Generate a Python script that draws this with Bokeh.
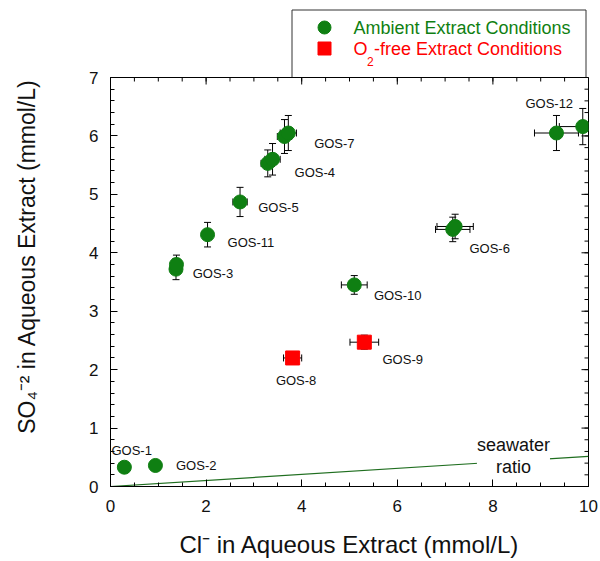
import numpy as np
from bokeh.plotting import figure
from bokeh.models import Range1d, SingleIntervalTicker, Label
from bokeh.layouts import column
from bokeh.embed import file_html
from bokeh.resources import INLINE
from bokeh.core.properties import value

FONT = "Liberation Sans"

# ---------------- data ----------------
# Ambient extract conditions (green circles)
amb_name = ["GOS-1", "GOS-2", "GOS-3", "GOS-3", "GOS-11", "GOS-5", "GOS-4", "GOS-4",
            "GOS-7", "GOS-7", "GOS-12", "GOS-12", "GOS-6", "GOS-6", "GOS-10"]
amb_cl = [0.29, 0.94, 1.37, 1.38, 2.03, 2.71, 3.29, 3.39, 3.64, 3.72, 9.33, 9.88, 7.16, 7.21, 5.10]
amb_so4 = [0.33, 0.36, 3.72, 3.80, 4.31, 4.87, 5.53, 5.60, 5.99, 6.05, 6.05, 6.16, 4.40, 4.45, 3.45]
amb_cl_err = [0.0, 0.0, 0.0, 0.0, 0.0, 0.15, 0.14, 0.16, 0.15, 0.17, 0.46, 0.49, 0.36, 0.38, 0.27]
amb_so4_err = [0.0, 0.0, 0.18, 0.16, 0.21, 0.25, 0.23, 0.27, 0.29, 0.30, 0.30, 0.31, 0.21, 0.21, 0.16]

# O2-free extract conditions (red squares)
o2f_name = ["GOS-8", "GOS-9"]
o2f_cl = [3.81, 5.31]
o2f_so4 = [2.20, 2.47]
o2f_cl_err = [0.19, 0.30]
o2f_so4_err = [0.07, 0.12]

# sample labels (left edge x, centre y, in data units)
lab_name = ["GOS-1", "GOS-2", "GOS-3", "GOS-11", "GOS-5", "GOS-4", "GOS-7",
            "GOS-12", "GOS-6", "GOS-10", "GOS-9", "GOS-8"]
lab_x = [0.02, 1.37, 1.72, 2.45, 3.09, 3.85, 4.26, 8.68, 7.51, 5.51, 5.69, 3.46]
lab_y = [0.62, 0.36, 3.65, 4.18, 4.77, 5.38, 5.87, 6.55, 4.07, 3.27, 2.17, 1.82]

# seawater SO4/Cl molar ratio
seawater_ratio = 0.0517
seawater_cl = [0.0, 10.0]

X_MAX, Y_MAX = 10, 7
x_major, x_minor = 2, 0.5
y_major, y_minor = 1, 0.2

GREEN = "#0f7f12"
RED = "#ff0000"
LINE_GREEN = "#1f6e1f"

W = 600
OVER = 12                 # plot canvas overlaps the legend strip by this much
TOP_H = 77
H = 561 - TOP_H + OVER
BL, BR, BT, BB = 110, 12, OVER, 75
FRAME_W = W - BL - BR
FRAME_H = H - BT - BB

# ---------------- legend strip (x in page pixels) ----------------
lg = figure(width=W, height=TOP_H, x_range=Range1d(BL, W - BR), y_range=Range1d(TOP_H, 0),
            output_backend="svg", toolbar_location=None,
            min_border_left=BL, min_border_right=BR, min_border_top=0, min_border_bottom=0,
            margin=(0, 0, -OVER, 0))
lg.axis.visible = False
lg.grid.visible = False
lg.outline_line_color = None
lg.quad(left=[291.5], right=[585.5], top=[9.5], bottom=[TOP_H + 2], fill_color=None,
        line_color="#333333", line_width=1)
lg.scatter([324], [27], marker="circle", size=13, fill_color=GREEN, line_color=GREEN)
lg.scatter([324], [48], marker="square", size=13, fill_color=RED, line_color=RED)
lg.text([353], [27], text=["Ambient Extract Conditions"], text_font=value(FONT),
        text_font_size="18px", text_color=GREEN, text_baseline="middle", text_align="left")
lg.text([353], [48], text=["O"], text_font=value(FONT),
        text_font_size="18px", text_color=RED, text_baseline="middle", text_align="left")
lg.text([366.5], [61], text=["2"], text_font=value(FONT),
        text_font_size="12px", text_color=RED, text_baseline="middle", text_align="left")
lg.text([373.5], [48], text=["-free Extract Conditions"], text_font=value(FONT),
        text_font_size="18px", text_color=RED, text_baseline="middle", text_align="left")

# ---------------- main plot ----------------
p = figure(width=W, height=H, x_range=Range1d(0, X_MAX), y_range=Range1d(0, Y_MAX),
           output_backend="svg", toolbar_location=None,
           min_border_left=BL, min_border_right=BR, min_border_top=BT, min_border_bottom=BB)
p.grid.visible = False
p.outline_line_color = "black"
p.background_fill_color = "white"
p.border_fill_color = None
p.border_fill_alpha = 0

xpx = X_MAX / FRAME_W   # data units per pixel
ypx = Y_MAX / FRAME_H

# top and right inward ticks (mirroring the bottom/left axes)
xt_major = np.arange(0, X_MAX + 1e-9, x_major)
xt_minor = np.arange(0, X_MAX + 1e-9, x_minor)
yt_major = np.arange(0, Y_MAX + 1e-9, y_major)
yt_minor = np.arange(0, Y_MAX + 1e-9, y_minor)
p.segment(xt_minor, Y_MAX, xt_minor, Y_MAX - 4 * ypx, line_color="black", line_width=1)
p.segment(xt_major, Y_MAX, xt_major, Y_MAX - 7 * ypx, line_color="black", line_width=1)
p.segment(X_MAX, yt_minor, X_MAX - 4 * xpx, yt_minor, line_color="black", line_width=1)
p.segment(X_MAX, yt_major, X_MAX - 7 * xpx, yt_major, line_color="black", line_width=1)

# seawater ratio line
sw_y = [seawater_ratio * c for c in seawater_cl]
p.line(seawater_cl, sw_y, line_color=LINE_GREEN, line_width=1.2)
p.add_layout(Label(x=8.43, y=0.52, text="seawater\nratio", text_align="center",
                   text_baseline="middle", text_font=FONT, text_font_size="18px",
                   text_color="#111111", background_fill_color="white",
                   text_line_height=1.1))


def err_bars(cl, so4, cl_err, so4_err):
    cl = np.array(cl); so4 = np.array(so4)
    ce = np.array(cl_err); se = np.array(so4_err)
    my = se > 0
    mx = ce > 0
    p.segment(cl[my], so4[my] - se[my], cl[my], so4[my] + se[my], line_color="black", line_width=1)
    p.scatter(np.concatenate([cl[my], cl[my]]),
              np.concatenate([so4[my] - se[my], so4[my] + se[my]]),
              marker="dash", size=7, line_color="black", line_width=1)
    p.segment(cl[mx] - ce[mx], so4[mx], cl[mx] + ce[mx], so4[mx], line_color="black", line_width=1)
    p.scatter(np.concatenate([cl[mx] - ce[mx], cl[mx] + ce[mx]]),
              np.concatenate([so4[mx], so4[mx]]),
              marker="dash", angle=np.pi / 2, size=7, line_color="black", line_width=1)


err_bars(amb_cl, amb_so4, amb_cl_err, amb_so4_err)
err_bars(o2f_cl, o2f_so4, o2f_cl_err, o2f_so4_err)

p.scatter(amb_cl, amb_so4, marker="circle", size=14, fill_color=GREEN, line_color=GREEN)
p.scatter(o2f_cl, o2f_so4, marker="square", size=14, fill_color=RED, line_color=RED)

for n, lx, ly in zip(lab_name, lab_x, lab_y):
    p.add_layout(Label(x=lx, y=ly, text=n, text_align="left", text_baseline="middle",
                       text_font=FONT, text_font_size="13px", text_color="#111111"))

# axes
xax = p.xaxis[0]
yax = p.yaxis[0]
xax.ticker = SingleIntervalTicker(interval=x_major, num_minor_ticks=int(round(x_major / x_minor)))
yax.ticker = SingleIntervalTicker(interval=y_major, num_minor_ticks=int(round(y_major / y_minor)))

for ax in [xax, yax]:
    ax.axis_line_color = "black"
    ax.major_tick_line_color = "black"
    ax.minor_tick_line_color = "black"
    ax.major_tick_in = 7
    ax.major_tick_out = 0
    ax.minor_tick_in = 4
    ax.minor_tick_out = 0
    ax.major_label_text_font = FONT
    ax.major_label_text_font_size = "17px"
    ax.major_label_text_color = "#111111"
    ax.axis_label_text_font = FONT
    ax.axis_label_text_font_style = "normal"
    ax.axis_label_text_color = "#111111"

xax.axis_label_text_font_size = "24px"
yax.axis_label_text_font_size = "23px"
xax.axis_label = "Cl\u207b in Aqueous Extract (mmol/L)"
# leading no-break spaces nudge the centred title upwards, as in the original
yax.axis_label = "\u00a0" * 8 + "SO\u2084\u207b\u00b2 in Aqueous Extract (mmol/L)"
xax.major_label_standoff = 13
yax.major_label_standoff = 12
xax.axis_label_standoff = 16
yax.axis_label_standoff = 46

layout = column(lg, p, spacing=0)
open("out.html", "w").write(file_html(layout, INLINE))
